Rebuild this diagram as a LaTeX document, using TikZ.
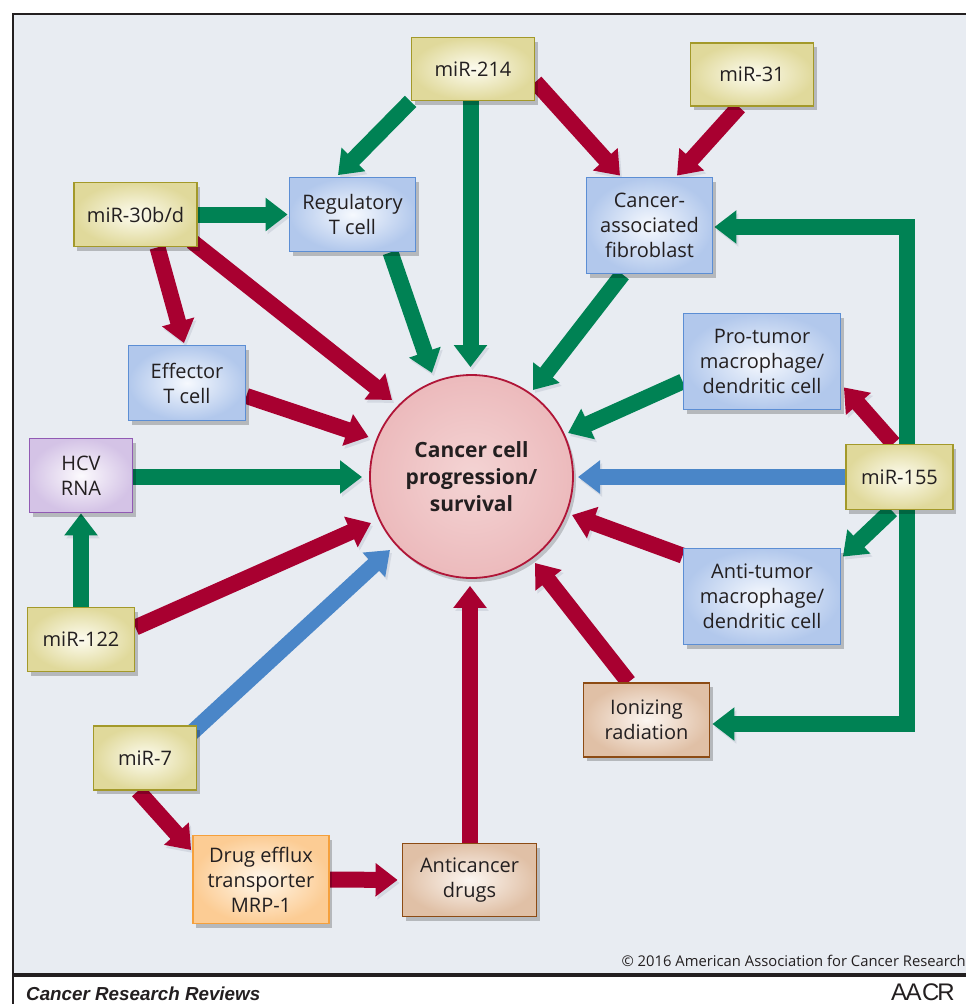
\documentclass[tikz,border=0pt]{standalone}
\usepackage{fontspec}
\setmainfont{Open Sans}
\newfontfamily\footfont{Liberation Sans}
\usetikzlibrary{arrows.meta,shadows,calc}
\definecolor{bgc}{RGB}{232,236,242}
\definecolor{shd}{RGB}{212,217,226}
\definecolor{frm}{RGB}{35,31,32}
\definecolor{txt}{RGB}{35,31,32}
\definecolor{redA}{RGB}{168,0,48}
\definecolor{greenA}{RGB}{0,130,84}
\definecolor{blueA}{RGB}{74,134,200}
\definecolor{yelB}{RGB}{163,153,42}\definecolor{yelO}{RGB}{224,217,155}\definecolor{yelI}{RGB}{253,252,240}
\definecolor{bluB}{RGB}{92,142,212}\definecolor{bluO}{RGB}{178,200,236}\definecolor{bluI}{RGB}{246,249,254}
\definecolor{purB}{RGB}{145,90,180}\definecolor{purO}{RGB}{212,195,230}\definecolor{purI}{RGB}{252,250,253}
\definecolor{brnB}{RGB}{140,75,20}\definecolor{brnO}{RGB}{224,192,166}\definecolor{brnI}{RGB}{252,246,241}
\definecolor{orgB}{RGB}{245,160,60}\definecolor{orgO}{RGB}{252,204,148}\definecolor{orgI}{RGB}{255,248,236}
\definecolor{cirB}{RGB}{176,22,56}\definecolor{cirO}{RGB}{236,186,188}\definecolor{cirI}{RGB}{244,212,212}
\pgfdeclarelayer{back}\pgfdeclarelayer{arrs}
\pgfsetlayers{back,arrs,main}
\begin{document}
\begin{tikzpicture}[x=1pt,y=-1pt,
  box/.style={rectangle, inner sep=0pt, align=center, text=txt, line width=1.8pt,
    font=\fontsize{20}{25}\selectfont,
    drop shadow={shadow xshift=3pt,shadow yshift=-4pt,opacity=0.22,fill=black}},
  mir/.style={box, draw=yelB, inner color=yelI, outer color=yelO},
  cellbox/.style={box, draw=bluB, inner color=bluI, outer color=bluO},
  purbox/.style={box, draw=purB, inner color=purI, outer color=purO},
  brnbox/.style={box, draw=brnB, inner color=brnI, outer color=brnO},
  orgbox/.style={box, draw=orgB, inner color=orgI, outer color=orgO},
  arr/.style={line width=16pt, line join=miter, -{Triangle[width=32pt,length=22pt]},
    preaction={draw=shd, transform canvas={xshift=2pt,yshift=-3pt}}},
  ra/.style={arr, draw=redA},
  ga/.style={arr, draw=greenA},
  ba/.style={arr, draw=blueA}]
\useasboundingbox (0,0) rectangle (966,1004);
% frame
\begin{pgfonlayer}{back}
\fill[bgc] (13,14) rectangle (970,974.5);
\draw[frm, line width=2.5pt] (13,1006) -- (13,14) -- (970,14);
\draw[frm, line width=4pt] (12,974.5) -- (970,974.5);
\end{pgfonlayer}
% nodes
\node[circle, minimum size=203pt, inner sep=0pt, draw=cirB, line width=1.8pt, inner color=cirI, outer color=cirO,
  align=center, text=txt, font=\fontsize{21}{27}\selectfont\bfseries,
  drop shadow={shadow xshift=3pt,shadow yshift=-4pt,opacity=0.18,fill=black}]
  (c) at (471.5,476.5) {Cancer cell\\progression/\\survival};
\node[mir, minimum width=123pt, minimum height=63pt] (m214) at (473,69) {miR-214};
\node[mir, minimum width=123pt, minimum height=63pt] (m31) at (752,74.5) {miR-31};
\node[cellbox, minimum width=126pt, minimum height=74pt] (treg) at (352.5,214.5) {Regulatory\\T cell};
\node[cellbox, minimum width=126pt, minimum height=96pt] (caf) at (649.5,225.5) {Cancer-\\associated\\fibroblast};
\node[mir, minimum width=123pt, minimum height=64pt] (m30) at (135.5,214.5) {miR-30b/d};
\node[cellbox, minimum width=117pt, minimum height=75pt] (teff) at (187,383) {Effector\\T cell};
\node[purbox, minimum width=103pt, minimum height=74pt] (hcv) at (81,475.5) {HCV\\RNA};
\node[mir, minimum width=107pt, minimum height=64pt] (m122) at (81,639.5) {miR-122};
\node[cellbox, minimum width=157pt, minimum height=96pt] (pro) at (762,361.5) {Pro-tumor\\macrophage/\\dendritic cell};
\node[mir, minimum width=107pt, minimum height=65pt] (m155) at (899.5,477) {miR-155};
\node[cellbox, minimum width=157pt, minimum height=96pt] (anti) at (762,596.5) {Anti-tumor\\macrophage/\\dendritic cell};
\node[brnbox, minimum width=126pt, minimum height=74pt] (ion) at (646.5,720) {Ionizing\\radiation};
\node[mir, minimum width=103pt, minimum height=64pt] (m7) at (145,758) {miR-7};
\node[orgbox, minimum width=136pt, minimum height=88pt] (drug) at (261,879.5) {Drug efflux\\transporter\\MRP-1};
\node[brnbox, minimum width=134pt, minimum height=73pt] (acd) at (469.5,880) {Anticancer\\drugs};
% texts
\node[anchor=base east, inner sep=0pt, text=txt, font=\fontsize{14.8}{17}\selectfont] (copy) at (966,966) {© 2016 American Association for Cancer Research};
\node[anchor=base west, inner sep=0pt, text=txt, font={\footfont\fontsize{18.8}{21}\selectfont\bfseries\itshape}] (journal) at (26,1000) {Cancer Research Reviews};
\node[anchor=base east, inner sep=0pt, text=txt, font={\footfont\fontsize{24}{26}\selectfont}] (aacr) at (955,1000) {A\kern-1.5pt A\kern0.5pt C\kern-2pt R};
% arrows
\begin{pgfonlayer}{arrs}
\draw[ga] (m214.south west) -- ($(treg.north)+(-14.5,-1.5)$);
\draw[ga] ($(m214.south)+(-2.5,0)$) -- ($(c.north)+(-1,-7)$);
\draw[ra] ($(m214.east)+(0,13)$) -- ($(caf.north)+(-29.5,-1)$);
\draw[ra] ($(m31.south)+(-13,0)$) -- ($(caf.north)+(27.5,-1)$);
\draw[ga, shorten >=1pt] (m30.east) -- (treg.west);
\draw[ra] ($(m30.south)+(22,0)$) -- ($(teff.north)+(-3,-1.5)$);
\draw[ra] ($(m30.south east)+(-6,-6)$) -- ($(c.center)+(-79.5,-76.5)$);
\draw[ga] ($(treg.south)+(38,0)$) -- ($(c.center)+(-39.5,-103.5)$);
\draw[ga] ($(caf.south)+(-27,0)$) -- ($(c.center)+(61.5,-86.5)$);
\draw[ga] ($(pro.west)+(0,20)$) -- ($(c.center)+(96.5,-43.5)$);
\draw[ra] ($(teff.east)+(0,13)$) -- ($(c.center)+(-103,-39.5)$);
\draw[ga] ($(hcv.east)+(0,1.5)$) -- ($(c.center)+(-109.5,0.5)$);
\draw[ba] (m155.west) -- ($(c.center)+(106.5,0.5)$);
\draw[ra] ($(m155.north)+(-6,0)$) -- ($(pro.south east)+(2.5,-23)$);
\draw[ga] ($(m155.south)+(-8,0)$) -- ($(anti.north east)+(1.5,9)$);
\draw[ga] ($(m155.north)+(7.5,0)$) |- ($(caf.east)+(1,1.5)$);
\draw[ga] ($(m155.south)+(7.5,0)$) |- ($(ion.east)+(2,4)$);
\draw[ra] ($(anti.north west)+(0,8)$) -- ($(c.center)+(100.5,38.5)$);
\draw[ra] ($(ion.north)+(-18,0)$) -- ($(c.center)+(63.5,86.5)$);
\draw[ga] (m122.north) -- (hcv.south);
\draw[ra] ($(m122.east)+(0,-12)$) -- ($(c.center)+(-100.5,46.5)$);
\draw[ba] ($(m7.north east)+(-6,8)$) -- ($(c.center)+(-81.5,73.5)$);
\draw[ra] ($(m7.south)+(-7,0)$) -- ($(drug.west)+(-1,-29.5)$);
\draw[ra, shorten >=4pt] (drug.east) -- (acd.west);
\draw[ra] ($(acd.north)+(0.5,0)$) -- ($(c.south)+(-1.5,7)$);
\end{pgfonlayer}
\end{tikzpicture}
\end{document}
